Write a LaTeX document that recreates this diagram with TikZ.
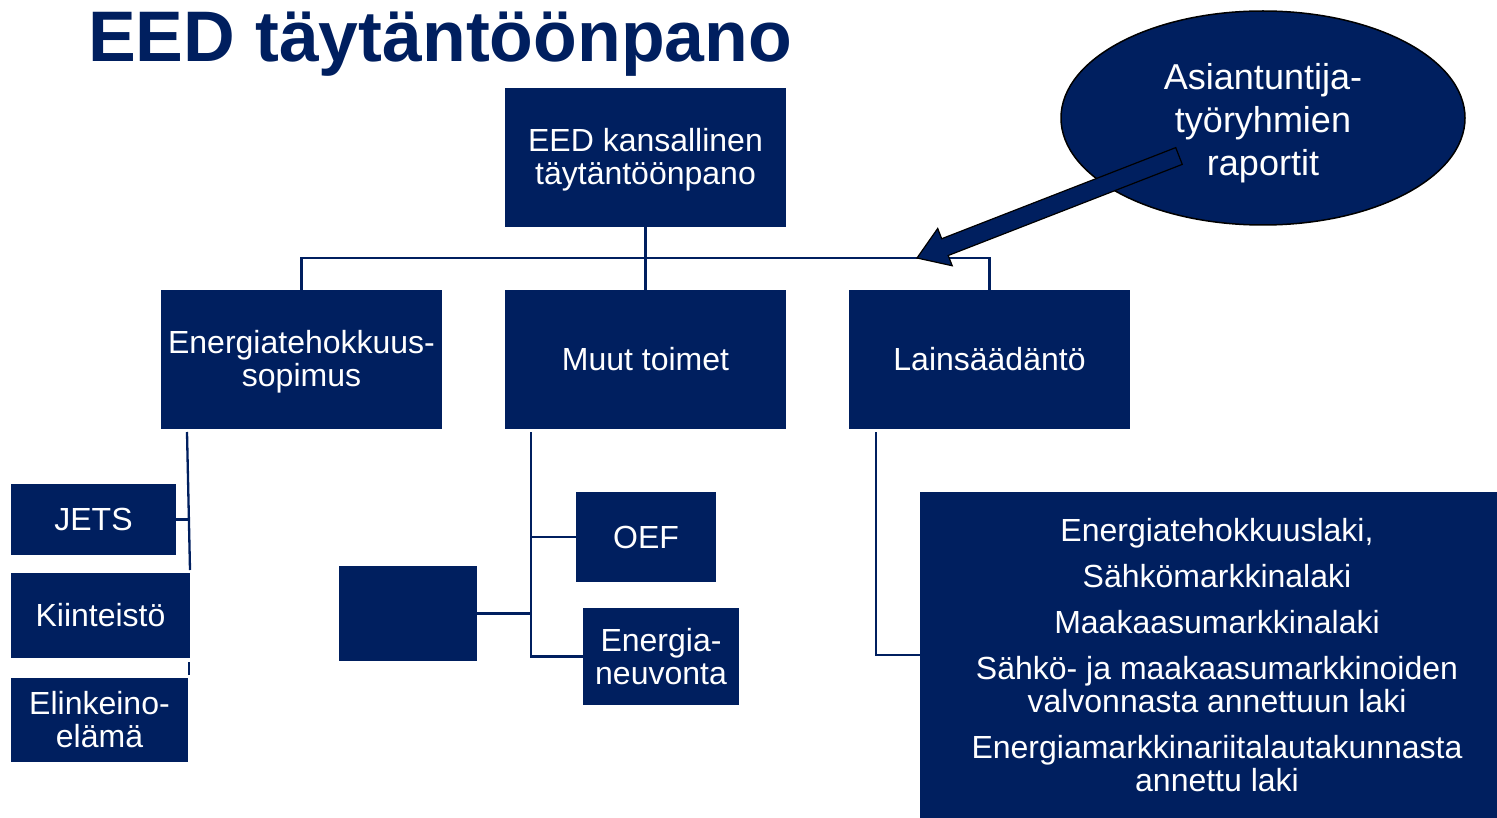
\documentclass[tikz,border=0pt]{standalone}
\usepackage{fontspec}
\setmainfont{Liberation Sans}
\usetikzlibrary{calc,shapes.geometric}
\definecolor{navy}{RGB}{0,31,95}
\tikzset{
  box/.style={fill=navy, text=white, inner sep=0pt, align=center, font=\fontsize{32}{33}\selectfont},
  conn/.style={draw=navy, line width=2.3pt},
}
\begin{document}
\begin{tikzpicture}[x=1pt,y=-1pt]
\useasboundingbox (0,0) rectangle (1497,818);
% title
\node[anchor=base west, inner sep=0pt, text=navy, font=\fontsize{71.6}{72}\selectfont\bfseries] (title) at (88,62) {EED täytäntöönpano};
% top level
\node[box, minimum width=281pt, minimum height=139pt] (top) at (645.5,157.5) {};
\node[box, fill=none] (toptext) at (645.5,159.5) {EED kansallinen\\täytäntöönpano};
% second level
\node[box, minimum width=281pt, minimum height=139pt] (es) at (301.5,359.5) {};
\node[box, fill=none] (estext) at (301.5,361.5) {Energiatehokkuus-\\sopimus};
\node[box, minimum width=281pt, minimum height=139pt] (muut) at (645.5,359.5) {Muut toimet};
\node[box, minimum width=281pt, minimum height=139pt] (lain) at (989.5,359.5) {Lainsäädäntö};
% bus
\coordinate (bus) at (0,258);
\draw[conn] (top.south) -- (top.south |- bus);
\draw[conn] (es.north) -- (es.north |- bus) -| (lain.north);
\draw[conn] (muut.north) -- (muut.north |- bus);
% left branch
\node[box, minimum width=165pt, minimum height=71pt] (jets) at (93.5,519.5) {JETS};
\node[box, minimum width=179pt, minimum height=85pt] (kiint) at (100.5,615.5) {Kiinteistö};
\node[box, minimum width=177pt, minimum height=84pt] (elink) at (99.5,720) {Elinkeino-\\elämä};
\coordinate (l1) at (187,432);
\coordinate (l2) at (190,570);
\coordinate (l3) at (189,662);
\coordinate (l4) at (189,675);
\draw[conn] (l1) -- (l2);
\draw[conn] (jets.east) -- ++(12,0);
\draw[conn] (l3) -- (l4);
% middle branch
\node[box, minimum width=140pt, minimum height=90pt] (oef) at (646,537) {OEF};
\node[box, minimum width=156pt, minimum height=97pt] (neuv) at (661,656.5) {Energia-\\neuvonta};
\node[box, minimum width=138pt, minimum height=95pt] (blank) at (408,613.5) {};
\coordinate (m1) at (531,432);
\draw[conn] (m1) |- (neuv.west);
\draw[conn] (oef.west) -- (oef.west -| m1);
\draw[conn] (blank.east) -- (blank.east -| m1);
% right branch
\node[box, minimum width=594pt, minimum height=326pt] (laws) at (1217,655) {Energiatehokkuuslaki,\\[13pt]Sähkömarkkinalaki\\[13pt]Maakaasumarkkinalaki\\[13pt]Sähkö- ja maakaasumarkkinoiden\\valvonnasta annettuun laki\\[13pt]Energiamarkkinariitalautakunnasta\\annettu laki};
\coordinate (r1) at (876,432);
\draw[conn] (r1) |- (laws.west);
% ellipse
\node[ellipse, fill=navy, draw=black, line width=1.5pt, inner sep=0pt, minimum width=404pt, minimum height=214pt] (ell) at (1263,118) {};
\node[text=white, inner sep=0pt, align=center, font=\fontsize{36}{43}\selectfont] (elltext) at (1263,123) {Asiantuntija-\\työryhmien\\raportit};
% block arrow
\coordinate (atail) at (1179,156);
\coordinate (atip) at (917,258);
\coordinate (hb) at ($(atip)!30pt!(atail)$);
\filldraw[fill=navy, draw=black, line width=1.2pt, line join=miter]
  ($(atail)!9pt!90:(hb)$) -- ($(hb)!9pt!90:(atip)$) -- ($(hb)!20pt!90:(atip)$) -- (atip)
  -- ($(hb)!20pt!-90:(atip)$) -- ($(hb)!9pt!-90:(atip)$) -- ($(atail)!9pt!-90:(hb)$) -- cycle;
\end{tikzpicture}
\end{document}
